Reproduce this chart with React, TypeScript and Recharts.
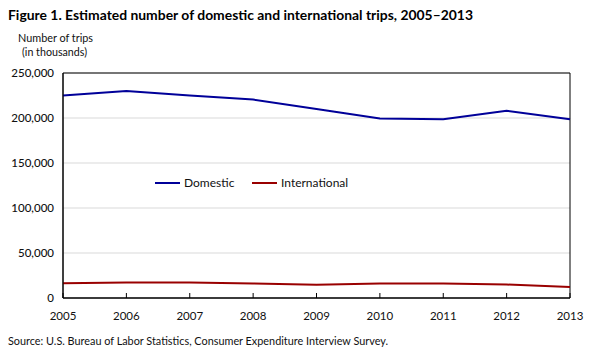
import React from "react";
import { LineChart, Line, XAxis, YAxis, CartesianGrid, ReferenceArea, Legend } from "recharts";

const years = ["2005", "2006", "2007", "2008", "2009", "2010", "2011", "2012", "2013"];
const domestic = [225000, 230000, 225000, 220500, 210000, 199500, 198500, 208000, 198500];
const international = [16500, 17200, 17300, 16200, 14800, 16000, 16000, 15000, 12300];
const yTicks = [0, 50000, 100000, 150000, 200000, 250000];

const data = years.map((y, i) => ({ year: y, Domestic: domestic[i], International: international[i] }));

const FONT = "Lato, 'Noto Sans', sans-serif";
const BLUE = "#000099";
const RED = "#990000";

const XTick = (props: any) => {
  const { x, y, payload } = props;
  return (
    <g>
      <line x1={x} y1={y} x2={x} y2={y - 5} stroke="#000" strokeWidth={1} />
      <text x={x} y={y + 22} textAnchor="middle" fontFamily={FONT} fontSize={11.5} fill="#111">
        {payload.value}
      </text>
    </g>
  );
};

const LegendContent = (props: any) => {
  const items = props.payload || [];
  const offsets = [0, 97];
  return (
    <svg width={220} height={20} style={{ overflow: "visible" }}>
      {items.map((it: any, i: number) => (
        <g key={it.value} transform={`translate(${offsets[i]},0)`}>
          <line x1={0} y1={10} x2={25} y2={10} stroke={it.color} strokeWidth={2} />
          <text x={29} y={14} fontFamily={FONT} fontSize={12} fill="#111">
            {it.value}
          </text>
        </g>
      ))}
    </svg>
  );
};

export default function App() {
  return (
    <div style={{ position: "absolute", left: 0, top: 0, width: 599, height: 359, background: "#fff" }}>
      <svg width={599} height={359} style={{ position: "absolute", left: 0, top: 0 }}>
        <text x={8} y={20} fontFamily={FONT} fontWeight={700} fontSize={13.5} fill="#000" textLength={465} lengthAdjust="spacingAndGlyphs">
          Figure 1. Estimated number of domestic and international trips, 2005–2013
        </text>
        <text x={18} y={42} fontFamily={FONT} fontSize={11} fill="#111" textLength={75} lengthAdjust="spacingAndGlyphs">
          Number of trips
        </text>
        <text x={22} y={56} fontFamily={FONT} fontSize={11} fill="#111" textLength={65} lengthAdjust="spacingAndGlyphs">
          (in thousands)
        </text>
        <text x={8} y={345} fontFamily={FONT} fontSize={11} fill="#111" textLength={380} lengthAdjust="spacingAndGlyphs">
          Source: U.S. Bureau of Labor Statistics, Consumer Expenditure Interview Survey.
        </text>
      </svg>
      <div style={{ position: "absolute", left: 0, top: 0 }}>
        <LineChart width={599} height={359} data={data} margin={{ top: 73, right: 29, bottom: 31, left: 0 }}>
          <CartesianGrid horizontal vertical={false} stroke="#d9d9d9" />
          <XAxis
            dataKey="year"
            tick={<XTick />}
            tickLine={false}
            tickSize={0}
            tickMargin={0}
            axisLine={{ stroke: "#000" }}
            height={30}
            interval={0}
          />
          <YAxis
            domain={[0, 250000]}
            ticks={yTicks}
            width={63}
            tickLine={false}
            tickSize={0}
            tickMargin={9}
            axisLine={{ stroke: "#000" }}
            tickFormatter={(v: number) => v.toLocaleString("en-US")}
            tick={{ fontFamily: FONT, fontSize: 11.5, fill: "#111", fontWeight: 500 }}
          />
          <ReferenceArea x1="2005" x2="2013" y1={0} y2={250000} fill="none" stroke="#000" strokeWidth={1} fillOpacity={0} />
          <Line type="linear" dataKey="Domestic" stroke={BLUE} strokeWidth={2} dot={false} isAnimationActive={false} />
          <Line type="linear" dataKey="International" stroke={RED} strokeWidth={2} dot={false} isAnimationActive={false} />
          <Legend
            verticalAlign="middle"
            align="center"
            content={<LegendContent />}
            wrapperStyle={{ position: "absolute", left: 155, top: 173, width: 220, height: 20 }}
          />
        </LineChart>
      </div>
    </div>
  );
}
